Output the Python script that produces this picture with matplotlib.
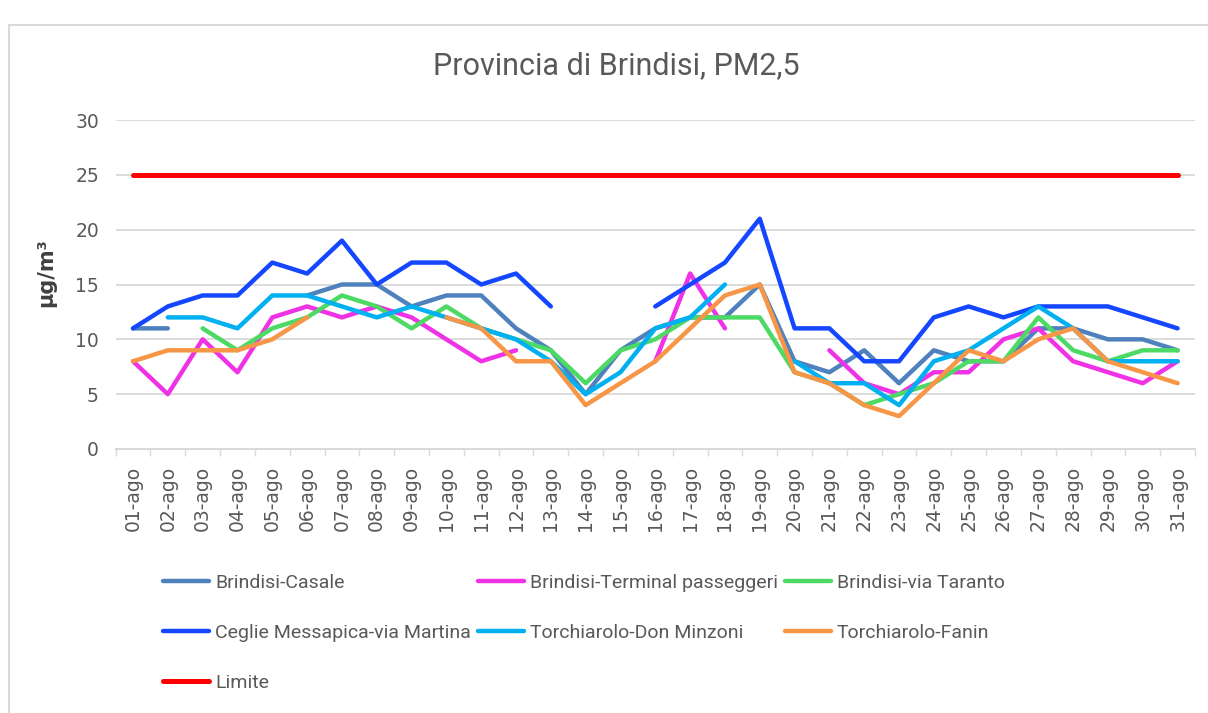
import numpy as np
import matplotlib
matplotlib.use("Agg")
import matplotlib.pyplot as plt
from matplotlib.patches import Rectangle

nan = np.nan

giorni = ["01-ago", "02-ago", "03-ago", "04-ago", "05-ago", "06-ago", "07-ago",
          "08-ago", "09-ago", "10-ago", "11-ago", "12-ago", "13-ago", "14-ago",
          "15-ago", "16-ago", "17-ago", "18-ago", "19-ago", "20-ago", "21-ago",
          "22-ago", "23-ago", "24-ago", "25-ago", "26-ago", "27-ago", "28-ago",
          "29-ago", "30-ago", "31-ago"]

casale = [11, 11, nan, nan, nan, 14, 15, 15, 13, 14, 14, 11, 9, 5, 9, 11,
          12, 12, 15, 8, 7, 9, 6, 9, 8, 8, 11, 11, 10, 10, 9]
terminal = [8, 5, 10, 7, 12, 13, 12, 13, 12, 10, 8, 9, nan, nan, nan, 8,
            16, 11, nan, nan, 9, 6, 5, 7, 7, 10, 11, 8, 7, 6, 8]
via_taranto = [nan, nan, 11, 9, 11, 12, 14, 13, 11, 13, 11, 10, 9, 6, 9, 10,
               12, 12, 12, 7, 6, 4, 5, 6, 8, 8, 12, 9, 8, 9, 9]
ceglie = [11, 13, 14, 14, 17, 16, 19, 15, 17, 17, 15, 16, 13, nan, nan, 13,
          15, 17, 21, 11, 11, 8, 8, 12, 13, 12, 13, 13, 13, 12, 11]
don_minzoni = [nan, 12, 12, 11, 14, 14, 13, 12, 13, 12, 11, 10, 8, 5, 7, 11,
               12, 15, nan, 8, 6, 6, 4, 8, 9, 11, 13, 11, 8, 8, 8]
fanin = [8, 9, 9, 9, 10, 12, nan, nan, nan, 12, 11, 8, 8, 4, 6, 8,
         11, 14, 15, 7, 6, 4, 3, 6, 9, 8, 10, 11, 8, 7, 6]
limite = [25] * len(giorni)

serie = [
    ("Brindisi-Casale", casale, "#4F81BD"),
    ("Brindisi-Terminal passeggeri", terminal, "#F032E6"),
    ("Brindisi-via Taranto", via_taranto, "#4CD964"),
    ("Ceglie Messapica-via Martina", ceglie, "#1447FF"),
    ("Torchiarolo-Don Minzoni", don_minzoni, "#00B0F0"),
    ("Torchiarolo-Fanin", fanin, "#F79646"),
    ("Limite", limite, "#FF0000"),
]

narrow = ["Liberation Sans Narrow", "Roboto", "DejaVu Sans"]
grigio = "#595959"

fig = plt.figure(figsize=(12.08, 7.13), dpi=100)
ax = fig.add_axes([115.6 / 1208, 1 - 449 / 713, (1195 - 115.6) / 1208, 329 / 713])

x = np.arange(len(giorni))
linee = {}
for nome, valori, colore in serie:
    lw = 3.6 if nome == "Limite" else 3.2
    (l,) = ax.plot(x, valori, color=colore, lw=lw, solid_capstyle="round",
                   solid_joinstyle="round", label=nome)
    linee[nome] = l

ax.set_xlim(-0.5, len(giorni) - 0.5)
ax.set_ylim(0, 30)
ax.set_yticks(range(0, 31, 5))
ax.set_xticks(x)
ax.set_xticklabels(giorni, rotation=90)
ax.set_xticks(np.arange(-0.5, len(giorni), 1), minor=True)
ax.tick_params(axis="x", which="major", length=0, pad=12, labelsize=13.5, labelcolor=grigio)
ax.tick_params(axis="x", which="minor", length=5, width=1, color="#D9D9D9")
ax.tick_params(axis="y", length=0, pad=12, labelsize=13.5, labelcolor=grigio)
ax.grid(axis="y", color="#D9D9D9", lw=1.3)
ax.set_axisbelow(True)
for s in ["left", "right", "top"]:
    ax.spines[s].set_visible(False)
ax.spines["bottom"].set_color("#D9D9D9")
ax.spines["bottom"].set_linewidth(1.5)

fig.text(0.51, 1 - 66 / 713, "Provincia di Brindisi, PM2,5", ha="center", va="center",
         fontsize=22, color=grigio, family=narrow)
fig.text(46 / 1208, 1 - 273 / 713, "µg/m³", rotation=90, ha="center", va="center",
         fontsize=15, fontweight="bold", color="#404040")

# ordine per colonne, cosi' il legend riempie le righe come nell'originale
ordine = ["Brindisi-Casale", "Ceglie Messapica-via Martina", "Limite",
          "Brindisi-Terminal passeggeri", "Torchiarolo-Don Minzoni",
          "Brindisi-via Taranto", "Torchiarolo-Fanin"]
leg = fig.legend([linee[n] for n in ordine], ordine, ncol=3, loc="upper left",
                 bbox_to_anchor=(163 / 1208, 1 - 574 / 713), frameon=False,
                 borderpad=0, borderaxespad=0, handlelength=2.37, handletextpad=0.31,
                 columnspacing=0.35, labelspacing=1.64,
                 prop={"family": narrow, "size": 14})
for t in leg.get_texts():
    t.set_color(grigio)

fig.add_artist(Rectangle((9 / 1208, -0.1), 1.2, 1.1 - 25 / 713, transform=fig.transFigure,
                         fill=False, edgecolor="#D9D9D9", lw=1.5))

fig.savefig("out.png", dpi=100)
